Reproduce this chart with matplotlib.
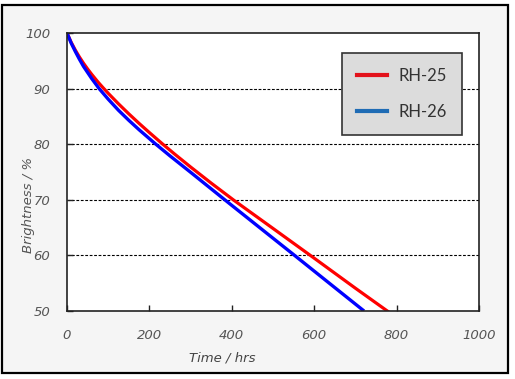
import matplotlib
matplotlib.use("Agg")
import matplotlib.pyplot as plt
from matplotlib.lines import Line2D
from matplotlib.patches import Rectangle

# ---- data ----
rh25_t = [0, 10, 20, 30, 40, 50, 60, 75, 87, 100, 125, 150, 175, 200, 231,
          260, 300, 350, 405, 500, 600, 700, 785]
rh25_b = [100, 98.35, 96.95, 95.7, 94.57, 93.53, 92.56, 91.2, 90.2, 89.16,
          87.26, 85.46, 83.74, 82.09, 80.1, 78.3, 75.9, 73.0, 69.92, 64.85,
          59.5, 54.1, 49.6]
rh26_t = [0, 10, 20, 30, 40, 50, 60, 78, 100, 125, 150, 175, 214, 250, 300,
          383, 460, 549, 640, 721]
rh26_b = [100, 98.2, 96.7, 95.3, 94.0, 92.9, 91.8, 90.0, 88.1, 86.1, 84.3,
          82.6, 80.1, 77.9, 74.95, 70.0, 65.45, 60.2, 54.8, 50.0]
x_ticks = [0, 200, 400, 600, 800, 1000]
y_ticks = [50, 60, 70, 80, 90, 100]

RED = '#ff0000'
BLUE = '#0000ff'
TICK_GRAY = '#555555'

fig = plt.figure(figsize=(5.15, 3.79), dpi=100)
fig.patch.set_facecolor('white')
# outer framed panel
fig.patches.append(Rectangle((2/515, 6/379), 506/515, 368/379,
                             transform=fig.transFigure, facecolor='#f5f5f5',
                             edgecolor='black', linewidth=1.6, zorder=-5))

ax = fig.add_axes([67/515, 68/379, 412/515, 278/379])
ax.set_facecolor('white')

ax.plot(rh25_t, rh25_b, color=RED, lw=2.3, solid_capstyle='butt')
ax.plot(rh26_t, rh26_b, color=BLUE, lw=2.4, solid_capstyle='butt')

ax.set_xlim(0, 1000)
ax.set_ylim(50, 100)
ax.set_xticks(x_ticks)
ax.set_yticks(y_ticks)
for yv in y_ticks[1:-1]:
    ax.axhline(yv, color='black', lw=0.8, ls=(0, (2.5, 1.5)), zorder=1)

for s in ax.spines.values():
    s.set_color('#222222')
    s.set_linewidth(1.2)

ax.tick_params(axis='both', direction='in', length=4, width=1, color='#222222',
               labelsize=9.5, labelcolor=TICK_GRAY)
ax.tick_params(axis='x', pad=13)
ax.tick_params(axis='y', pad=12)
for lab in ax.get_xticklabels() + ax.get_yticklabels():
    lab.set_fontstyle('italic')

ax.set_xlabel('Time / hrs', fontsize=9.5, style='italic', color='#444444')
ax.xaxis.set_label_coords(0.376, -0.145)
ax.set_ylabel('Brightness / %', fontsize=9.5, style='italic', color=TICK_GRAY)
ax.yaxis.set_label_coords(-0.078, 0.38)

handles = [Line2D([], [], color='#e3121b', lw=3),
           Line2D([], [], color='#1f6cb5', lw=3)]
leg = ax.legend(handles, ['RH-25', 'RH-26'], loc='upper left',
                bbox_to_anchor=((342 - 67) / 412, (311 - 53) / 278),
                borderaxespad=0, fancybox=False, framealpha=1,
                facecolor='#dcdcdc', edgecolor='#333333',
                prop={'family': ['Lato', 'DejaVu Sans'], 'size': 12},
                borderpad=0.9, handlelength=1.8, handletextpad=0.7,
                labelspacing=1.2)
leg.get_frame().set_linewidth(1.2)
for t in leg.get_texts():
    t.set_color('#333333')

fig.savefig('out.png', dpi=100, facecolor=fig.get_facecolor())
